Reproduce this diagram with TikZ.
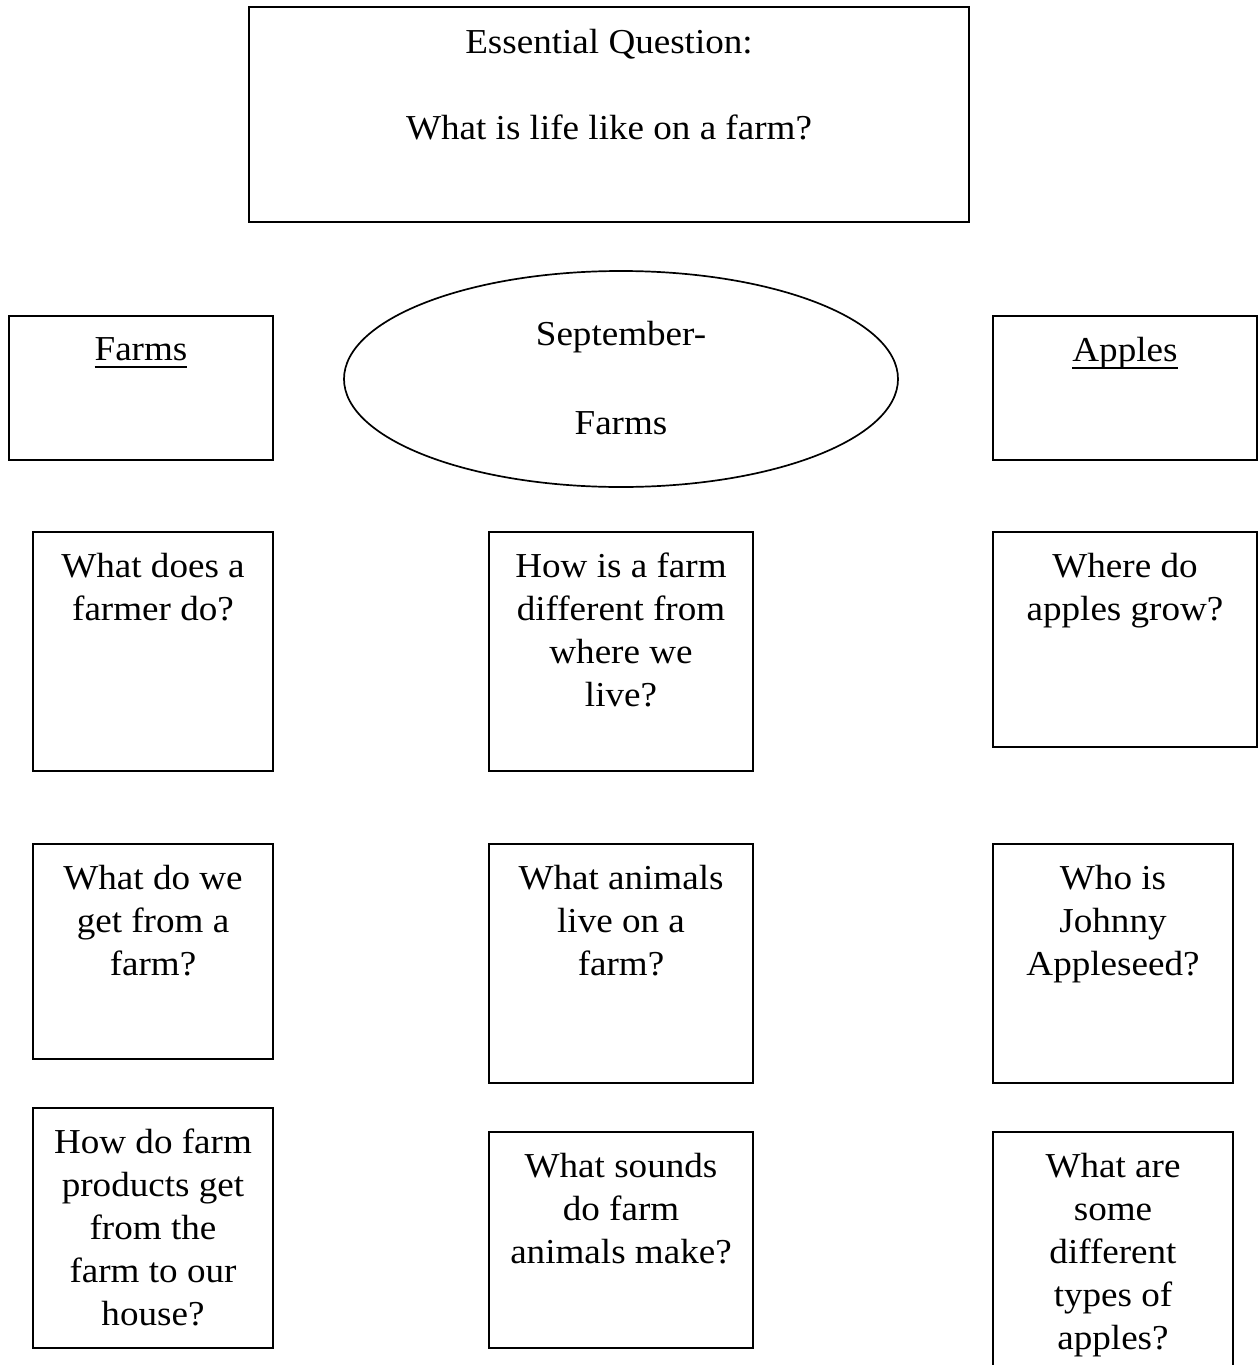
\documentclass[tikz,border=0pt]{standalone}
\usepackage{fontspec}
\setmainfont{Liberation Serif}[FakeStretch=1.06]
\usetikzlibrary{positioning,shapes.geometric}

\newsavebox{\ulbox}
\newcommand{\ulword}[1]{\sbox{\ulbox}{#1}\rlap{\rule[-7.5pt]{\wd\ulbox}{2pt}}\usebox{\ulbox}}

\tikzset{
  qbox/.style={draw,line width=2.6pt,inner sep=0pt},
  qtext/.style={align=center,inner sep=0pt,font=\fontsize{35}{43}\selectfont,
    execute at begin node=\rule{0pt}{24pt}},
}

\begin{document}
\begin{tikzpicture}[x=1pt,y=-1pt]
        \clip (0,0) rectangle (1259,1365);
        \fill[white] (0,0) rectangle (1259,1365);

        % essential question and unit titles
        \node[qbox,minimum width=720pt,minimum height=215pt] (eq) at (609,114.5) {};
        \node[qtext,below=23pt of eq.north] (eqtext) {Essential Question:\\[43.7pt]What is life like on a farm?};

        \node[qbox,minimum width=264pt,minimum height=144pt] (farms) at (141,388) {};
        \node[qtext,below=22pt of farms.north] (farmstext) {\ulword{Farms}};
        \node[draw,ellipse,line width=1.7pt,inner sep=0pt,minimum width=554pt,minimum height=216pt] (sept) at (621,379) {};
        \node[qtext,below=51pt of sept.north] (septtext) {September-\\[45.7pt]Farms};
        \node[qbox,minimum width=264pt,minimum height=144pt] (apples) at (1125,388) {};
        \node[qtext,below=22pt of apples.north] (applestext) {\ulword{Apples}};

        % questions, first row
        \node[qbox,minimum width=240pt,minimum height=239pt] (farmer) at (153,651.5) {};
        \node[qtext,below=22pt of farmer.north] (farmertext) {What does a\\farmer do?};
        \node[qbox,minimum width=264pt,minimum height=239pt] (different) at (621,651.5) {};
        \node[qtext,below=22pt of different.north] (differenttext) {How is a farm\\different from\\where we\\live?};
        \node[qbox,minimum width=264pt,minimum height=215pt] (grow) at (1125,639.5) {};
        \node[qtext,below=22pt of grow.north] (growtext) {Where do\\apples grow?};

        % second row
        \node[qbox,minimum width=240pt,minimum height=215pt] (get) at (153,951.5) {};
        \node[qtext,below=22pt of get.north] (gettext) {What do we\\get from a\\farm?};
        \node[qbox,minimum width=264pt,minimum height=239pt] (animals) at (621,963.5) {};
        \node[qtext,below=22pt of animals.north] (animalstext) {What animals\\live on a\\farm?};
        \node[qbox,minimum width=240pt,minimum height=239pt] (johnny) at (1113,963.5) {};
        \node[qtext,below=22pt of johnny.north] (johnnytext) {Who is\\Johnny\\Appleseed?};

        % third row
        \node[qbox,minimum width=240pt,minimum height=240pt] (products) at (153,1228) {};
        \node[qtext,below=22pt of products.north] (productstext) {How do farm\\products get\\from the\\farm to our\\house?};
        \node[qbox,minimum width=264pt,minimum height=216pt] (sounds) at (621,1240) {};
        \node[qtext,below=22pt of sounds.north] (soundstext) {What sounds\\do farm\\animals make?};
        \node[qbox,minimum width=240pt,minimum height=250pt] (types) at (1113,1257) {};
        \node[qtext,below=22pt of types.north] (typestext) {What are\\some\\different\\types of\\apples?};
\end{tikzpicture}
\end{document}
